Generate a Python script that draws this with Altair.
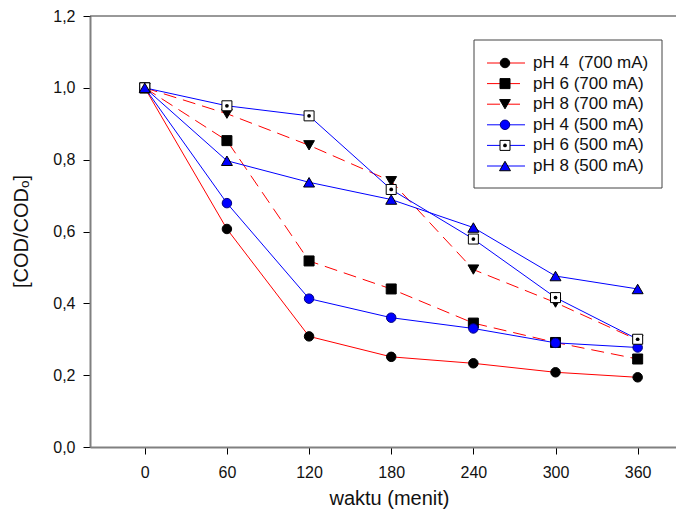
import altair as alt
import pandas as pd

# ---- data ----
time_min = [0, 60, 120, 180, 240, 300, 360]
ph4_700 = [1.0, 0.607, 0.308, 0.251, 0.233, 0.208, 0.194]
ph6_700 = [1.0, 0.853, 0.518, 0.440, 0.345, 0.291, 0.245]
ph8_700 = [1.0, 0.928, 0.840, 0.740, 0.494, 0.402, 0.298]
ph4_500 = [1.0, 0.679, 0.413, 0.360, 0.330, 0.290, 0.277]
ph6_500 = [1.0, 0.950, 0.922, 0.717, 0.579, 0.416, 0.300]
ph8_500 = [1.0, 0.797, 0.737, 0.689, 0.611, 0.476, 0.440]

series_names = ["pH 4\u00a0 (700 mA)", "pH 6 (700 mA)", "pH 8 (700 mA)",
                "pH 4 (500 mA)", "pH 6 (500 mA)", "pH 8 (500 mA)"]
series_values = [ph4_700, ph6_700, ph8_700, ph4_500, ph6_500, ph8_500]

# ---- styles ----
line_colors = ["#ff0000", "#ff0000", "#ff0000", "#0000ff", "#0000ff", "#0000ff"]
line_dash = [None, [13, 7], [13, 7], None, None, None]
shapes = ["circle", "square", "triangle-down", "circle", "square", "triangle-up"]
fills = ["#000000", "#000000", "#000000", "#0000ff", "#ffffff", "#0000ff"]
strokes = ["#000000", "#000000", "#000000", "#000080", "#000000", "#000000"]
sizes = [90, 100, 115, 90, 100, 120]

W, H = 586, 431
XDOM = [-40, 388]
YDOM = [0, 1.2]
FONT = "Liberation Sans"

xs = alt.Scale(domain=XDOM, nice=False, zero=False)
ys = alt.Scale(domain=YDOM, nice=False, zero=False)

rows = []
for name, vals in zip(series_names, series_values):
    for t, v in zip(time_min, vals):
        rows.append({"series": name, "t": t, "v": v})
df = pd.DataFrame(rows)

# legend rows (layout in pixels converted into data units of the y scale)
leg = pd.DataFrame({"series": series_names,
                    "ly": [YDOM[1] * (1 - (47 + 20.6 * i) / H) for i in range(6)]})

layers = []

# top frame line
layers.append(alt.Chart(alt.Data(values=[{}])).mark_rule(color="#333333", strokeWidth=1)
              .encode(y=alt.datum(1.2, scale=ys)))

for i, name in enumerate(series_names):
    sub = df[df.series == name]
    lkw = dict(color=line_colors[i], strokeWidth=1)
    if line_dash[i]:
        lkw["strokeDash"] = line_dash[i]
    enc = dict(x=alt.X("t:Q", scale=xs,
                       axis=alt.Axis(values=time_min, format="d", title="waktu (menit)",
                                     grid=False, domainColor="#808080", domainWidth=2,
                                     tickColor="#000000", tickSize=7, tickWidth=1,
                                     labelFont=FONT, labelFontSize=16, labelColor="#111111",
                                     labelPadding=10, titleFont=FONT, titleFontSize=20,
                                     titleFontWeight="normal", titleColor="#111111",
                                     titleX=299, titleY=57, titleBaseline="alphabetic",
                                     titleAlign="center")),
               y=alt.Y("v:Q", scale=ys,
                       axis=alt.Axis(values=[0, 0.2, 0.4, 0.6, 0.8, 1.0, 1.2],
                                     labelExpr="replace(format(datum.value,'.1f'),'.',',')",
                                     title="[COD/CODₒ]", grid=False,
                                     domainColor="#808080", domainWidth=2,
                                     tickColor="#000000", tickSize=7, tickWidth=1,
                                     labelFont=FONT, labelFontSize=16, labelColor="#111111",
                                     labelPadding=8, titleFont=FONT, titleFontSize=20,
                                     titleFontWeight="normal", titleColor="#111111",
                                     titleX=-63, titleY=215, titleAngle=270,
                                     titleBaseline="alphabetic", titleAlign="center")))
    layers.append(alt.Chart(sub).mark_line(**lkw).encode(**enc))

for i, name in enumerate(series_names):
    sub = df[df.series == name]
    layers.append(alt.Chart(sub).mark_point(shape=shapes[i], filled=True, fill=fills[i],
                                            stroke=strokes[i], strokeWidth=1, size=sizes[i],
                                            opacity=1)
                  .encode(x=alt.X("t:Q", scale=xs), y=alt.Y("v:Q", scale=ys)))
    if name == "pH 6 (500 mA)":
        layers.append(alt.Chart(sub).mark_point(shape="circle", filled=True, color="#000000",
                                                size=14, opacity=1)
                      .encode(x=alt.X("t:Q", scale=xs), y=alt.Y("v:Q", scale=ys)))

# ---- legend ----
layers.append(alt.Chart(alt.Data(values=[{}])).mark_rect(fill="#ffffff", stroke="#444444",
                                                         strokeWidth=1)
              .encode(x=alt.value(384), x2=alt.value(572), y=alt.value(24), y2=alt.value(172)))
for i, name in enumerate(series_names):
    sub = leg[leg.series == name]
    lkw = dict(color=line_colors[i], strokeWidth=1)
    if line_dash[i]:
        lkw["strokeDash"] = line_dash[i]
    layers.append(alt.Chart(sub).mark_rule(**lkw)
                  .encode(x=alt.value(397), x2=alt.value(435), y=alt.Y("ly:Q", scale=ys)))
    layers.append(alt.Chart(sub).mark_point(shape=shapes[i], filled=True, fill=fills[i],
                                            stroke=strokes[i], strokeWidth=1, size=sizes[i],
                                            opacity=1)
                  .encode(x=alt.value(415), y=alt.Y("ly:Q", scale=ys)))
    if name == "pH 6 (500 mA)":
        layers.append(alt.Chart(sub).mark_point(shape="circle", filled=True, color="#000000",
                                                size=14, opacity=1)
                      .encode(x=alt.value(415), y=alt.Y("ly:Q", scale=ys)))
    layers.append(alt.Chart(sub).mark_text(align="left", baseline="middle", font=FONT,
                                           fontSize=17, color="#111111")
                  .encode(x=alt.value(443), y=alt.Y("ly:Q", scale=ys), text="series:N"))

chart = alt.layer(*layers).properties(
    width=W, height=H,
    autosize=alt.AutoSizeParams(type="none"),
    padding={"left": 82, "top": 8, "right": 0, "bottom": 63},
    background="#ffffff",
).configure_view(stroke=None)

chart.save("out.html", embed_options={"renderer": "svg", "actions": False})
